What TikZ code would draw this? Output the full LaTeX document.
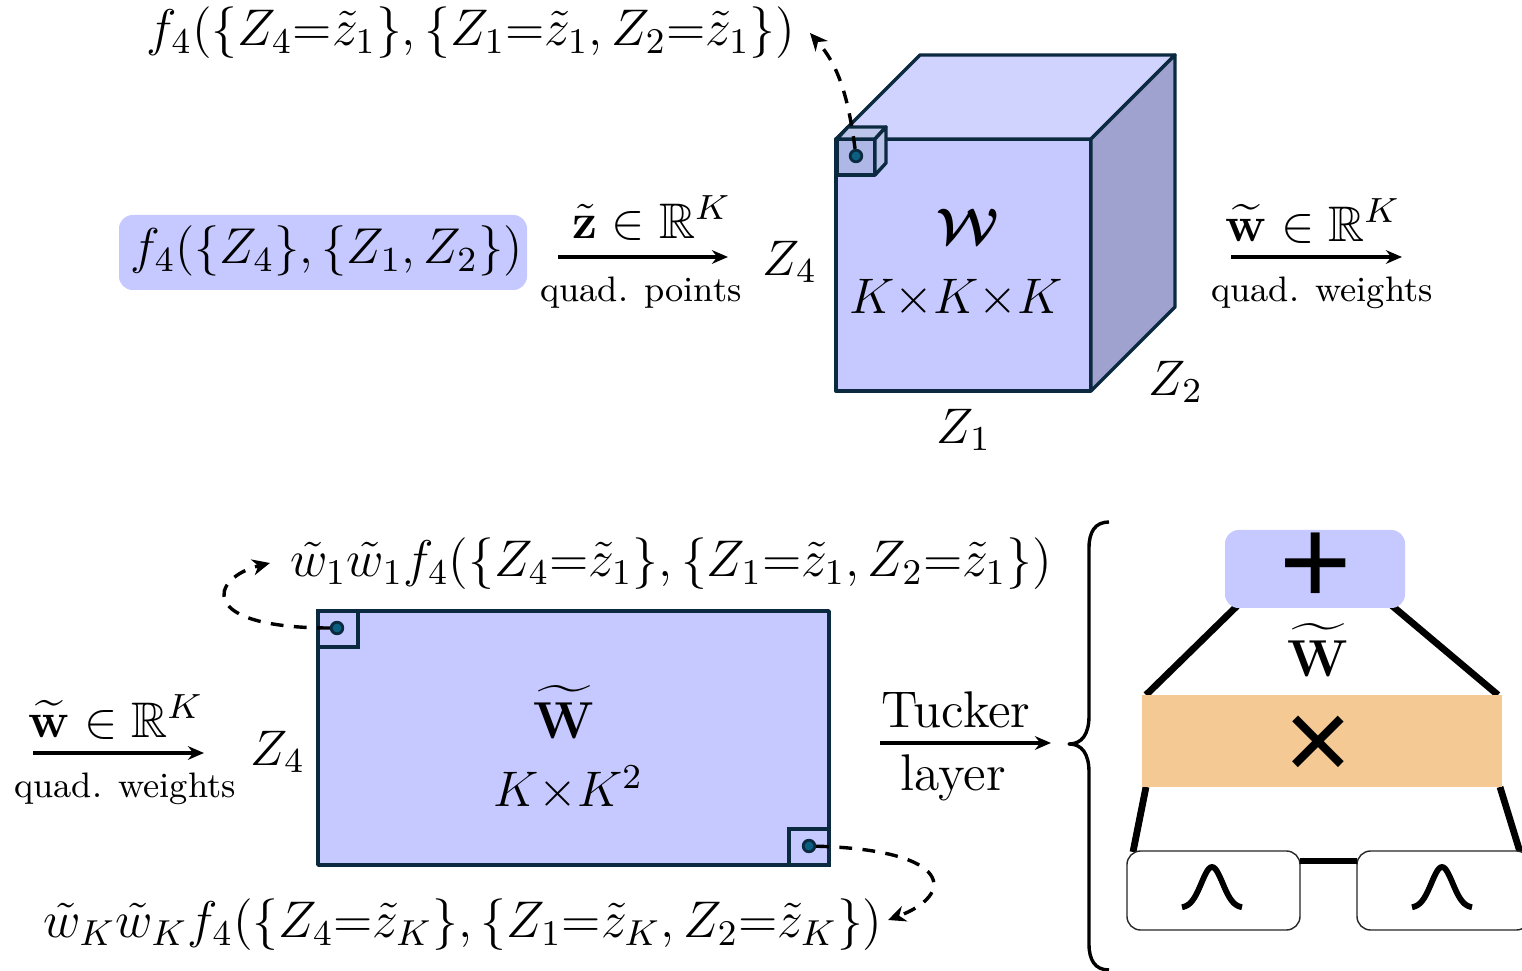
\documentclass[tikz,border=0pt]{standalone}
\usepackage{fix-cm}
\usepackage{amsmath,amssymb,bm}
\usetikzlibrary{arrows.meta,calc}
\definecolor{cubefront}{HTML}{C6C9FF}
\definecolor{cubetop}{HTML}{D1D3FF}
\definecolor{cubeside}{HTML}{9FA1CF}
\definecolor{edge}{HTML}{0B2A40}
\definecolor{dotfill}{HTML}{0B5F80}
\definecolor{orangebox}{HTML}{F4C993}
\definecolor{smallfront}{HTML}{AEB7E6}
\newcommand{\fsz}[1]{\fontsize{#1}{#1}\selectfont}
\font\heavyplus="Liberation Sans" at 31pt
\font\heavytimes="Liberation Sans" at 29pt
\tikzset{
  x=0.25pt,y=-0.25pt,
  txt/.style={inner sep=0pt,outer sep=0pt,font=\fsz{12.5}},
  bigf/.style={inner sep=0pt,outer sep=0pt,font=\fsz{12.9}},
  small/.style={inner sep=0pt,outer sep=0pt,font=\fsz{8.85}},
  facefront/.style={draw=edge,line width=0.85pt,fill=cubefront,line join=round},
  tiled/.style={draw=edge,line width=0.85pt,fill=#1,line join=round},
  flow/.style={line width=0.85pt,-{Stealth[length=4pt,width=3.4pt]}},
  dashflow/.style={line width=0.85pt,dash pattern=on 3.2pt off 2.6pt,-{Stealth[length=4.4pt,width=4pt,inset=1.4pt]}},
  dotn/.style={circle,draw=edge,line width=0.7pt,fill=dotfill,inner sep=0pt,minimum size=2.9pt},
  rectn/.style={rectangle,inner sep=0pt,outer sep=0pt},
  thick line/.style={line width=1.7pt},
  gaussbox/.style={rectn,draw=black!85,line width=0.35pt,fill=white,rounded corners=3.4pt,minimum width=43.25pt,minimum height=19.75pt},
}
\newcommand{\gausscurve}[1]{\draw[line width=1.45pt,shift={#1}] plot[domain=-30:30,samples=41,smooth] (\x,{41*(1-exp(-(\x/15)^2))-41});}
\begin{document}
\begin{tikzpicture}
\useasboundingbox (0,0) rectangle (1522,971);

% ---- top: cube
\node[rectn,facefront,minimum width=63.75pt,minimum height=63pt] (front) at (963.5,265) {};
\coordinate (tl) at (920,55);
\coordinate (tr) at (1175,55);
\coordinate (br) at (1175,307);
\draw[tiled=cubetop] (front.north west) -- (tl) -- (tr) -- (front.north east) -- cycle;
\draw[tiled=cubeside] (front.north east) -- (tr) -- (br) -- (front.south east) -- cycle;

\coordinate (sa) at (848,127);
\coordinate (sb) at (886,127);
\coordinate (sc) at (886,163);
\node[rectn,tiled=smallfront,minimum width=9.5pt,minimum height=9pt] (sfront) at (856,157) {};
\draw[tiled=smallfront!80!white] (sfront.north west) -- (sa) -- (sb) -- (sfront.north east) -- cycle;
\draw[tiled=smallfront!85!white] (sfront.north east) -- (sb) -- (sc) -- (sfront.south east) -- cycle;
\node[dotn] (d1) at (856,156) {};
\coordinate (a1) at (810,33);
\draw[dashflow] (d1) .. controls (848,95) and (838,65) .. (a1);

\node[bigf] (t1) at (471,33) {$f_4(\{Z_4{=}\tilde z_1\},\{Z_1{=}\tilde z_1,Z_2{=}\tilde z_1\})$};

\node[rectn,fill=cubefront,rounded corners=3.4pt,minimum width=102pt,minimum height=18.75pt] (fbox) at (323,252.5) {};
\node[bigf,font=\fsz{12.6}] (ftext) at (326.5,251) {$f_4(\{Z_4\},\{Z_1,Z_2\})$};

\coordinate (q1a) at (558,257);
\coordinate (q1b) at (728,257);
\draw[flow] (q1a) -- (q1b);
\node[txt] (zt) at (652,218) {$\tilde{\mathbf z}\in\mathbb R^K$};
\node[small] (qp) at (641,293) {quad. points};

\node[txt] (z4a) at (790,262) {$Z_4$};
\node[txt] (wcal) at (968,226) {$\bm{\mathcal W}$};
\node[txt] (kkk) at (956,299) {$K{\times}K{\times}K$};
\node[txt] (z2a) at (1176,382) {$Z_2$};
\node[txt] (z1a) at (964,430) {$Z_1$};

\coordinate (q2a) at (1231,257);
\coordinate (q2b) at (1402,257);
\draw[flow] (q2a) -- (q2b);
\node[txt] (wt) at (1313,221) {$\widetilde{\mathbf w}\in\mathbb R^K$};
\node[small] (qw) at (1322,293) {quad. weights};

% ---- bottom: matrix
\node[rectn,facefront,minimum width=127.75pt,minimum height=63.5pt] (mat) at (573.5,738) {};
\node[rectn,draw=edge,line width=0.85pt,minimum width=10pt,minimum height=9pt] (s1) at (338,629) {};
\node[rectn,draw=edge,line width=0.85pt,minimum width=10pt,minimum height=9pt] (s2) at (809,847) {};
\node[dotn] (d2) at (337,628) {};
\node[dotn] (d3) at (809,846) {};
\coordinate (a2) at (270,563);
\coordinate (a3) at (888,920);
\draw[dashflow] (d2) .. controls (195,628) and (210,578) .. (a2);
\draw[dashflow] (d3) .. controls (955,850) and (955,895) .. (a3);

\node[bigf] (t2) at (671,564) {$\tilde w_1\tilde w_1f_4(\{Z_4{=}\tilde z_1\},\{Z_1{=}\tilde z_1,Z_2{=}\tilde z_1\})$};
\node[bigf] (t3) at (463,925) {$\tilde w_K\tilde w_Kf_4(\{Z_4{=}\tilde z_K\},\{Z_1{=}\tilde z_K,Z_2{=}\tilde z_K\})$};

\coordinate (q3a) at (33,753);
\coordinate (q3b) at (204,753);
\draw[flow] (q3a) -- (q3b);
\node[txt] (wt2) at (116,717) {$\widetilde{\mathbf w}\in\mathbb R^K$};
\node[small] (qw2) at (125,789) {quad. weights};
\node[txt] (z4b) at (278,752) {$Z_4$};
\node[txt,font=\fsz{13}] (wb) at (564,712) {$\widetilde{\mathbf W}$};
\node[txt] (kk2) at (568,788) {$K{\times}K^2$};

\coordinate (q4a) at (880,743);
\coordinate (q4b) at (1051,743);
\draw[flow] (q4a) -- (q4b);
\node[bigf] (tucker) at (956,710) {Tucker};
\node[bigf] (layer) at (953,778) {layer};

% ---- brace
\coordinate (btop) at (1109,522);
\coordinate (bbot) at (1109,970);
\coordinate (btip) at (1069,744);
\draw[line width=0.85pt,line join=round] (btop) .. controls (1095,522) and (1089,532) .. (1089,548)
  -- (1089,716) .. controls (1089,734) and (1082,744) .. (btip)
  .. controls (1082,744) and (1089,754) .. (1089,772)
  -- (1089,944) .. controls (1089,960) and (1095,970) .. (bbot);

% ---- right: Tucker layer
\coordinate (l1a) at (1237,606);
\coordinate (l1b) at (1146,695);
\coordinate (l2a) at (1390,604);
\coordinate (l2b) at (1498,695);
\coordinate (l3a) at (1146,787);
\coordinate (l3b) at (1133,852);
\coordinate (l4a) at (1500,787);
\coordinate (l4b) at (1520,852);
\draw[thick line] (l1a) -- (l1b);
\draw[thick line] (l2a) -- (l2b);
\draw[thick line] (l3a) -- (l3b);
\draw[thick line] (l4a) -- (l4b);

\node[rectn,fill=cubefront,rounded corners=3.4pt,minimum width=45pt,minimum height=19.5pt] (plusbox) at (1315,569) {};
\node[rectn,fill=orangebox,minimum width=90pt,minimum height=23pt] (orange) at (1322,741) {};
\node[gaussbox] (g1) at (1213.5,890.5) {};
\node[gaussbox] (g2) at (1443.5,890.5) {};
\draw[thick line] (g1.east |- 0,861) -- (g2.west |- 0,861);
\gausscurve{(1212,908)}
\gausscurve{(1442,908)}

\node[txt,font=\heavyplus] (plus) at (1316,569) {+};
\node[txt,font=\heavytimes] (times) at (1318,748) {×};
\node[txt,font=\fsz{13}] (wc) at (1318,650) {$\widetilde{\mathbf W}$};
\end{tikzpicture}
\end{document}
